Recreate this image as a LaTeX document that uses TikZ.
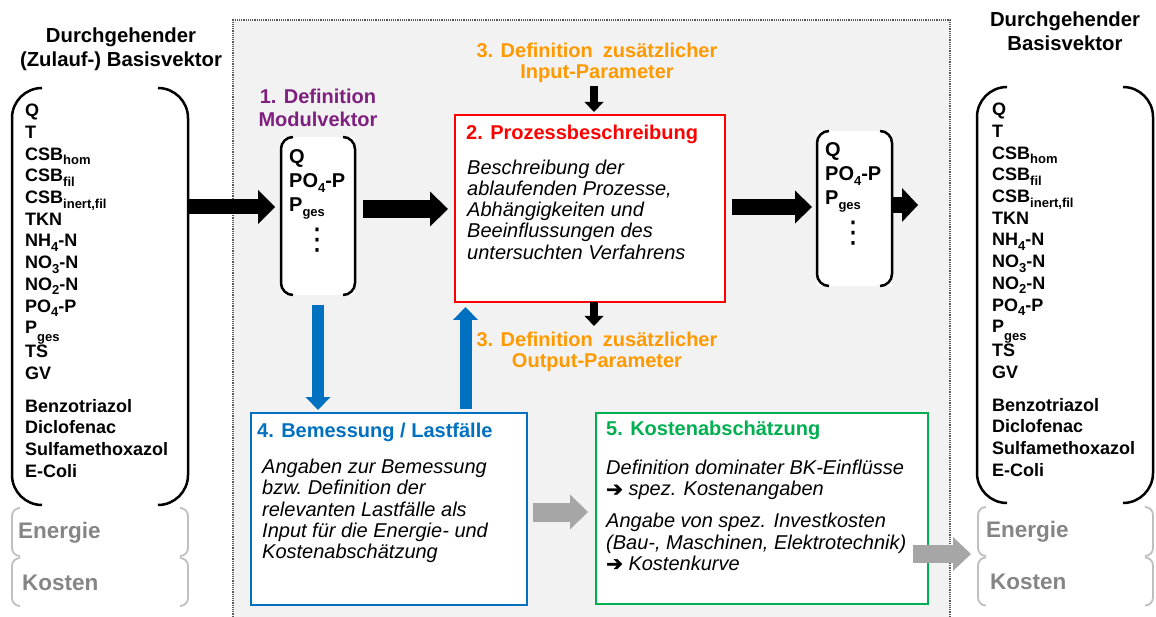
\documentclass[tikz,border=0pt]{standalone}
\usepackage{fontspec}
\setmainfont{Liberation Sans}
\newfontfamily\arrowfont[FakeBold=2.2]{DejaVu Sans}
\newfontfamily\symbolfont{DejaVu Sans}
\usetikzlibrary{arrows.meta,calc}

\definecolor{panelfill}{HTML}{F2F2F2}
\definecolor{paneledge}{HTML}{595959}
\definecolor{procred}{HTML}{FF0000}
\definecolor{paramorange}{HTML}{FF9900}
\definecolor{modpurple}{HTML}{7F1F7F}
\definecolor{dimblue}{HTML}{0070C0}
\definecolor{costgreen}{HTML}{00B050}
\definecolor{flowgray}{HTML}{A6A6A6}
\definecolor{extragray}{HTML}{858585}
\definecolor{extraedge}{HTML}{BFBFBF}

% lowered subscripts for the parameter names
\newcommand\lo[1]{\raisebox{-0.25em}{\fontsize{13}{13}\selectfont #1}}
\newcommand\lolo[1]{\raisebox{-0.42em}{\fontsize{13}{13}\selectfont #1}}
\newcommand\thenarrow{{\arrowfont ➔}}

% left and right halves of a rounded vector bracket around a named node
\newcommand\vecbrackets[3]{%
  \draw[#1] ($(#2.north west)+(#3,0)$) -- (#2.north west) -- (#2.south west) -- ($(#2.south west)+(#3,0)$);
  \draw[#1] ($(#2.north east)+(-#3,0)$) -- (#2.north east) -- (#2.south east) -- ($(#2.south east)+(-#3,0)$);
}

\tikzset{
  heading/.style={font=\fontsize{20.3}{24}\selectfont\bfseries, align=center, inner sep=0pt},
  vecitems/.style={font=\fontsize{18}{21.7}\selectfont\bfseries, align=left, anchor=north west, inner sep=0pt},
  moditems/.style={font=\fontsize{20}{#1}\selectfont\bfseries, align=left, anchor=north west, inner sep=0pt},
  vdots/.style={font=\symbolfont\fontsize{30}{30}\selectfont, inner sep=0pt},
  slot/.style n args={2}{inner sep=0pt, outer sep=0pt, minimum width=#1, minimum height=#2},
  frame/.style={draw=#1, line width=2.5pt, fill=white, inner sep=0pt, outer sep=0pt},
  boxtitle/.style={font=\fontsize{20}{24}\selectfont\bfseries, text=#1, anchor=base west, inner sep=0pt},
  boxtext/.style={font=\fontsize{20}{21.25}\selectfont\itshape, align=left, anchor=north west, inner sep=0pt},
  param/.style={font=\fontsize{20}{21}\selectfont\bfseries, text=paramorange, align=center, inner sep=0pt},
  vecbracket/.style={line width=2.5pt, rounded corners=30pt},
  modbracket/.style={line width=2.5pt, rounded corners=12pt},
  extrabracket/.style={draw=extraedge, line width=1.8pt, rounded corners=8pt},
  extratext/.style={font=\fontsize{22.5}{22}\selectfont\bfseries, text=extragray, anchor=west, inner sep=0pt},
  fatarrow/.style n args={4}{draw=#1, line width=#2, -{Triangle[width=#3, length=#4, line width=0pt]}},
}

\begin{document}
\begin{tikzpicture}[x=1pt, y=-1pt]
\useasboundingbox (0,0) rectangle (1156,617);

% shaded module area
\fill[panelfill] (233,20) rectangle (950,630);
\draw[paneledge, densely dotted, line width=1.2pt] (233,630) -- (233,20) -- (950,20) -- (950,630);

% ---- incoming base vector (left) ----
\node[heading] (intitle) at (121,49.5) {Durchgehender\\(Zulauf-) Basisvektor};
\node[slot={176pt}{417pt}] (invec) at (100,296.5) {};
\vecbrackets{vecbracket}{invec}{30}
\node[vecitems] (initems) at (25,104) {Q\\T\\CSB\lo{hom}\\CSB\lo{fil}\\CSB\lo{inert,fil}\\TKN\\NH\lo{4}-N\\NO\lo{3}-N\\NO\lo{2}-N\\PO\lo{4}-P\\P\lolo{ges}\\TS\\GV\\[11pt]Benzotriazol\\Diclofenac\\Sulfamethoxazol\\E-Coli};
\node[slot={176pt}{48pt}] (inenergy) at (100,532) {};
\node[slot={176pt}{48pt}] (incost) at (100,582) {};
\vecbrackets{extrabracket}{inenergy}{8}
\vecbrackets{extrabracket}{incost}{8}
\node[extratext] (inenergytext) at (18,533) {Energie};
\node[extratext] (incosttext) at (22,583) {Kosten};

% ---- outgoing base vector (right) ----
\node[heading] (outtitle) at (1065,31) {Durchgehender\\Basisvektor};
\node[slot={176pt}{416pt}] (outvec) at (1065,295) {};
\vecbrackets{vecbracket}{outvec}{30}
\node[vecitems] (outitems) at (992,103) {Q\\T\\CSB\lo{hom}\\CSB\lo{fil}\\CSB\lo{inert,fil}\\TKN\\NH\lo{4}-N\\NO\lo{3}-N\\NO\lo{2}-N\\PO\lo{4}-P\\P\lolo{ges}\\TS\\GV\\[11pt]Benzotriazol\\Diclofenac\\Sulfamethoxazol\\E-Coli};
\node[slot={175pt}{49pt}] (outenergy) at (1065.5,531.5) {};
\node[slot={175pt}{48pt}] (outcost) at (1065.5,581.5) {};
\vecbrackets{extrabracket}{outenergy}{8}
\vecbrackets{extrabracket}{outcost}{8}
\node[extratext] (outenergytext) at (986,532) {Energie};
\node[extratext] (outcosttext) at (990,582) {Kosten};

% ---- 1. module vector ----
\node[heading, text=modpurple, font=\fontsize{20}{23.5}\selectfont\bfseries] (modtitle) at (318,108) {1. Definition\\Modulvektor};
\node[slot={74pt}{158pt}, fill=white] (modin) at (318,216) {};
\vecbrackets{modbracket}{modin}{12}
\node[moditems=24] (modinitems) at (289,149.5) {Q\\PO\lo{4}-P\\P\lo{ges}};
\node[vdots] (modindots) at (317,240) {⋮};

% ---- 2. process description ----
\node[frame=procred, minimum width=270pt, minimum height=187pt] (proc) at (590,208.5) {};
\node[boxtitle=procred] (proctitle) at (466,140) {2. Prozessbeschreibung};
\node[boxtext] (proctext) at (467,159.5) {Beschreibung der\\ablaufenden Prozesse,\\Abhängigkeiten und\\Beeinflussungen des\\untersuchten Verfahrens};

% ---- 3. additional parameters ----
\node[param] (inparam) at (597,62.5) {3. Definition\enspace zusätzlicher\\Input-Parameter};
\node[param] (outparam) at (597,352) {3. Definition\enspace zusätzlicher\\Output-Parameter};

% ---- resulting module vector ----
\node[slot={75pt}{155pt}, fill=white] (modout) at (854.5,208.5) {};
\vecbrackets{modbracket}{modout}{12}
\node[moditems=24] (modoutitems) at (825,142.5) {Q\\PO\lo{4}-P\\P\lo{ges}};
\node[vdots] (modoutdots) at (853,233) {⋮};

% ---- 4. design / load cases ----
\node[frame=dimblue, minimum width=276pt, minimum height=192pt] (dim) at (389,509) {};
\node[boxtitle=dimblue] (dimtitle) at (257,437) {4. Bemessung / Lastfälle};
\node[boxtext] (dimtext) at (262,459) {Angaben zur Bemessung\\bzw.\ Definition der\\relevanten Lastfälle als\\Input für die Energie- und\\Kostenabschätzung};

% ---- 5. cost estimate ----
\node[frame=costgreen, minimum width=332pt, minimum height=191pt] (cost) at (762,508.5) {};
\node[boxtitle=costgreen] (costtitle) at (606,435) {5. Kostenabschätzung};
\node[boxtext] (costtext) at (606,460) {Definition dominater BK-Einflüsse\\\thenarrow{} spez. Kostenangaben\\[10.75pt]Angabe von spez. Investkosten\\(Bau-, Maschinen, Elektrotechnik)\\\thenarrow{} Kostenkurve};

% ---- connectors ----
\coordinate (rowA) at (0,207);
\coordinate (rowB) at (0,209);
\coordinate (rowC) at (0,207);
\coordinate (rowD) at (0,205);
\coordinate (rowE) at (0,512);
\coordinate (rowF) at (0,554);
\coordinate (colP) at (594,0);
\coordinate (colU) at (465.5,0);
\coordinate (modoutexit) at (918,205);

\draw[fatarrow={black}{15pt}{34pt}{17pt}] (invec.east |- rowA) -- ($(modin.west |- rowA)+(-6,0)$);
\draw[fatarrow={black}{18pt}{35pt}{18pt}] ($(modin.east |- rowB)+(8,0)$) -- ($(proc.west |- rowB)+(-7,0)$);
\draw[fatarrow={black}{16pt}{33pt}{17pt}] ($(proc.east |- rowC)+(7,0)$) -- ($(modout.west |- rowC)+(-5,0)$);
\draw[fatarrow={black}{16pt}{34pt}{16pt}] (modout.east |- rowD) -- (modoutexit);

\draw[fatarrow={black}{8pt}{19pt}{10pt}] ($(colP |- inparam.south)+(0,3)$) -- ($(colP |- proc.north)+(0,-3)$);
\draw[fatarrow={black}{8pt}{19pt}{10pt}] (colP |- proc.south) -- ($(colP |- outparam.north)+(0,-6)$);

\draw[fatarrow={dimblue}{12pt}{25pt}{13pt}] ($(modin.south)+(0,10)$) -- ($(modin.south |- dim.north)+(0,-3)$);
\draw[fatarrow={dimblue}{12pt}{25pt}{13pt}] ($(colU |- dim.north)+(0,-4)$) -- ($(colU |- proc.south)+(0,5)$);

\draw[fatarrow={flowgray}{19pt}{35pt}{18pt}] ($(dim.east |- rowE)+(6,0)$) -- ($(cost.west |- rowE)+(-8,0)$);
\draw[fatarrow={flowgray}{18pt}{34pt}{18pt}] ($(cost.east |- rowF)+(-15,0)$) -- ($(outenergy.west |- rowF)+(-7,0)$);
\end{tikzpicture}
\end{document}
